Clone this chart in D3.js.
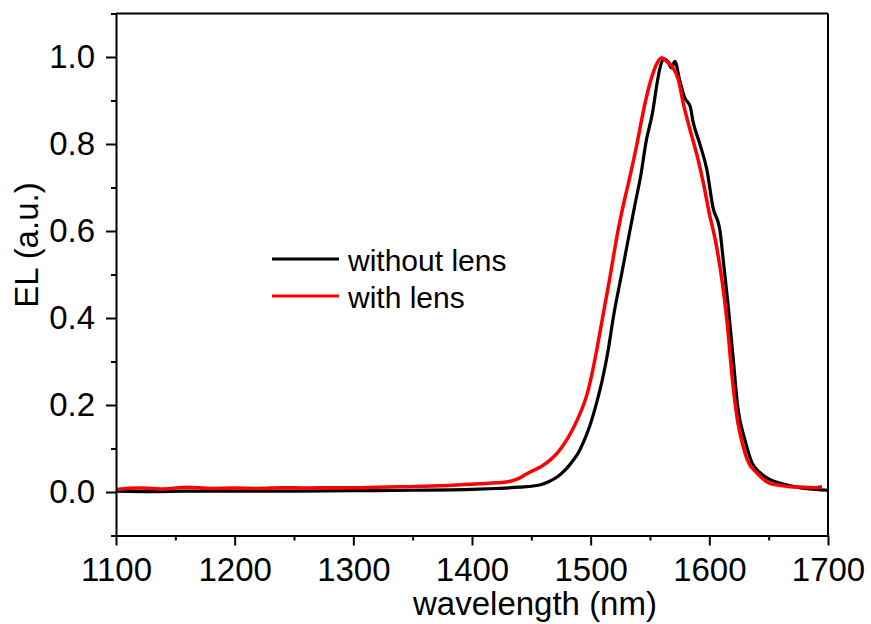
<!DOCTYPE html>
<html>
<head>
<meta charset="utf-8">
<script src="https://cdn.jsdelivr.net/npm/d3@7"></script>
<style>
  html, body { margin: 0; padding: 0; background: #fff; }
  svg { display: block; }
  text { font-family: "Liberation Sans", Arial, sans-serif; fill: #000; }
</style>
</head>
<body>
<svg id="chart" width="871" height="624"></svg>
<script>
// ---- data ----
const seriesNames = ["without lens", "with lens"];
const seriesColors = ["#000000", "#ff0000"];

const wlWithout = [1100,1130,1160,1200,1250,1300,1350,1400,1420,1440,1457,1465,1472,1479,1485,1490,1494,1499,1505,1510,1515,1519,1526,1533,1538,1542,1547,1552,1556,1558,1562,1565,1568,1571,1575,1579,1584,1586,1592,1598,1603,1609,1612,1616,1620,1624,1630,1636,1643,1650,1660,1676,1690,1700];
const elWithout = [0.002,0.001,0.002,0.002,0.002,0.003,0.004,0.006,0.008,0.011,0.016,0.024,0.035,0.052,0.072,0.092,0.115,0.15,0.205,0.26,0.33,0.40,0.50,0.60,0.67,0.724,0.81,0.87,0.94,0.97,0.995,0.99,0.975,0.99,0.947,0.908,0.885,0.855,0.80,0.74,0.655,0.60,0.526,0.425,0.31,0.195,0.12,0.067,0.044,0.03,0.02,0.01,0.006,0.004];

const wlWith = [1100,1120,1140,1160,1180,1200,1220,1240,1260,1280,1300,1320,1340,1360,1380,1400,1420,1429,1440,1449,1458,1466,1472,1477,1485,1491,1497,1501,1505,1510,1516,1523,1528,1533,1539,1544,1550,1556,1560,1564,1569,1574,1578,1584,1590,1595,1600,1605,1611,1615,1619,1624,1628,1632,1640,1651,1660,1668,1680,1690,1695];
const elWith = [0.006,0.009,0.007,0.011,0.008,0.009,0.008,0.010,0.009,0.010,0.010,0.011,0.012,0.013,0.015,0.018,0.021,0.023,0.032,0.046,0.058,0.074,0.09,0.108,0.145,0.18,0.225,0.27,0.325,0.40,0.49,0.60,0.665,0.724,0.80,0.87,0.94,0.986,0.998,0.99,0.977,0.947,0.894,0.83,0.77,0.71,0.64,0.58,0.48,0.39,0.27,0.16,0.11,0.074,0.044,0.02,0.015,0.012,0.011,0.010,0.012];

const xMajorTicks = [1100,1200,1300,1400,1500,1600,1700];
const xMinorTicks = [1150,1250,1350,1450,1550,1650];
const yMajorTicks = [0.0,0.2,0.4,0.6,0.8,1.0];
const yMinorTicks = [-0.1,0.1,0.3,0.5,0.7,0.9,1.1];

const xTitle = "wavelength (nm)";
const yTitle = "EL (a.u.)";

// ---- layout ----
const svg = d3.select("#chart");
const L = 116, R = 828, T = 13.5, B = 535.5;
const x = d3.scaleLinear().domain([1100, 1700]).range([L, R]);
const y = d3.scaleLinear().domain([-0.1, 1.1]).range([B, T]);

svg.append("defs").append("clipPath").attr("id", "clip")
  .append("rect").attr("x", L).attr("y", T).attr("width", R - L).attr("height", B - T);

// series
const series = [
  {name: seriesNames[0], color: seriesColors[0], w: wlWithout, v: elWithout, sw: 3.2},
  {name: seriesNames[1], color: seriesColors[1], w: wlWith, v: elWith, sw: 3.5}
];
const line = d3.line().x(d => x(d[0])).y(d => y(d[1])).curve(d3.curveMonotoneX);
const gData = svg.append("g").attr("clip-path", "url(#clip)");
series.forEach(s => {
  gData.append("path")
    .datum(s.w.map((w, i) => [w, s.v[i]]))
    .attr("d", line)
    .attr("fill", "none")
    .attr("stroke", s.color)
    .attr("stroke-width", s.sw)
    .attr("stroke-linejoin", "round");
});

// frame (top, right)
svg.append("line").attr("x1", L).attr("x2", R).attr("y1", T).attr("y2", T).attr("stroke", "#000").attr("stroke-width", 2);
svg.append("line").attr("x1", R).attr("x2", R).attr("y1", T).attr("y2", B).attr("stroke", "#000").attr("stroke-width", 2);

function styleAxis(g) {
  g.selectAll("path.domain").attr("stroke", "#000").attr("stroke-width", 2);
  g.selectAll(".tick line").attr("stroke", "#000").attr("stroke-width", 2);
  g.selectAll(".tick text").style("font-size", "33px").style("font-family", "'Liberation Sans', Arial, sans-serif").attr("fill", "#000");
}

// x axis
const gxMinor = svg.append("g").attr("transform", `translate(0,${B})`)
  .call(d3.axisBottom(x).tickValues(xMinorTicks).tickSize(5).tickFormat(""));
styleAxis(gxMinor);
gxMinor.select("path.domain").remove();
const gx = svg.append("g").attr("transform", `translate(0,${B})`)
  .call(d3.axisBottom(x).tickValues(xMajorTicks).tickSize(10).tickSizeOuter(0).tickPadding(12).tickFormat(d3.format("d")));
styleAxis(gx);

// y axis
const gyMinor = svg.append("g").attr("transform", `translate(${L},0)`)
  .call(d3.axisLeft(y).tickValues(yMinorTicks).tickSize(5).tickFormat(""));
styleAxis(gyMinor);
gyMinor.select("path.domain").remove();
const gy = svg.append("g").attr("transform", `translate(${L},0)`)
  .call(d3.axisLeft(y).tickValues(yMajorTicks).tickSize(10).tickSizeOuter(0).tickPadding(11).tickFormat(d3.format(".1f")));
styleAxis(gy);

// axis titles
svg.append("text").attr("x", 535).attr("y", 615).attr("text-anchor", "middle")
  .style("font-size", "33px").text(xTitle);
svg.append("text").attr("transform", "translate(38,245) rotate(-90)").attr("text-anchor", "middle")
  .style("font-size", "33px").text(yTitle);

// legend
const legY = [259, 296];
series.forEach((s, i) => {
  svg.append("line").attr("x1", 272).attr("x2", 339).attr("y1", legY[i]).attr("y2", legY[i])
    .attr("stroke", s.color).attr("stroke-width", 3);
  svg.append("text").attr("x", 348).attr("y", legY[i] + 11.5)
    .style("font-size", "30px").text(s.name);
});
</script>
</body>
</html>
